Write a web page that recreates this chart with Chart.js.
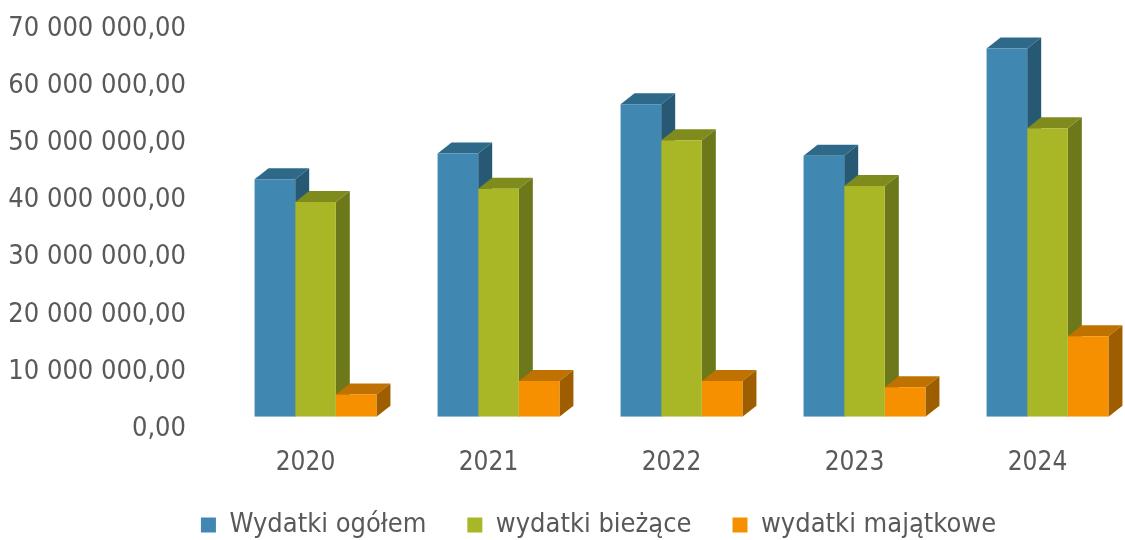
<!DOCTYPE html>
<html>
<head>
<meta charset="utf-8">
<script src="https://cdn.jsdelivr.net/npm/chart.js@4"></script>
<style>
	html, body { margin: 0; padding: 0; background: #fff; overflow: hidden; }
	#wrap { width: 1125px; height: 540px; position: relative; overflow: hidden; }
</style>
</head>
<body>
<div id="wrap"><canvas id="myChart" width="1160" height="540"></canvas></div>
<script>
// values (PLN)
const years = ['2020', '2021', '2022', '2023', '2024']
const wydatkiOgolem = [41600000, 46100000, 54700000, 45700000, 64500000]
const wydatkiBiezace = [37600000, 39900000, 48400000, 40400000, 50500000]
const wydatkiMajatkowe = [3900000, 6250000, 6250000, 5150000, 14100000]

const seriesNames = ['Wydatki ogółem', 'wydatki bieżące', 'wydatki majątkowe']

// front, top, side shades
const shades = [
	['rgb(64, 135, 178)', 'rgb(47, 105, 138)', 'rgb(39, 89, 117)'],
	['rgb(169, 183, 38)', 'rgb(128, 139, 29)', 'rgb(108, 120, 25)'],
	['rgb(246, 144, 0)', 'rgb(192, 114, 0)', 'rgb(158, 94, 0)']
]

const depthX = 14
const depthY = 11

Chart.defaults.font.family = '"DejaVu Sans Condensed", "DejaVu Sans", Verdana, sans-serif'
Chart.defaults.color = '#595959'

function formatPl(value) {
	let s = Math.round(value).toString()
	s = s.replace(/\B(?=(\d{3})+(?!\d))/g, ' ')
	return s + ',00'
}

// draws the top and right faces of every bar, behind the fronts
const extrude = {
	id: 'extrude',
	beforeDatasetsDraw(chart) {
		const ctx = chart.ctx
		ctx.save()
		chart.data.datasets.forEach((ds, i) => {
			const meta = chart.getDatasetMeta(i)
			meta.data.forEach(bar => {
				const left = bar.x - bar.width / 2
				const right = bar.x + bar.width / 2
				const top = bar.y
				const base = bar.base
				// top
				ctx.fillStyle = shades[i][1]
				ctx.beginPath()
				ctx.moveTo(left, top)
				ctx.lineTo(left + depthX, top - depthY)
				ctx.lineTo(right + depthX, top - depthY)
				ctx.lineTo(right, top)
				ctx.closePath()
				ctx.fill()
				// side
				ctx.fillStyle = shades[i][2]
				ctx.beginPath()
				ctx.moveTo(right, top)
				ctx.lineTo(right + depthX, top - depthY)
				ctx.lineTo(right + depthX, base - depthY)
				ctx.lineTo(right, base)
				ctx.closePath()
				ctx.fill()
			})
		})
		ctx.restore()
	}
}

// nudge legend to where the original has it, let x labels overflow their box
const nudge = {
	id: 'nudge',
	afterLayout(chart) {
		const lg = chart.legend
		lg.left += 29
		lg.right += 29
		lg.top += 8.5
		lg.bottom += 8.5
		chart.scales.x.bottom += 30
	}
}

const ctx = document.getElementById('myChart')
var chart = new Chart(ctx, {
	type: 'bar',
	data: {
		labels: years,
		datasets: [{
			label: seriesNames[0],
			data: wydatkiOgolem,
			backgroundColor: shades[0][0]
		}, {
			label: seriesNames[1],
			data: wydatkiBiezace,
			backgroundColor: shades[1][0]
		}, {
			label: seriesNames[2],
			data: wydatkiMajatkowe,
			backgroundColor: shades[2][0]
		}]
	},
	options: {
		responsive: false,
		animation: false,
		datasets: {
			bar: {
				categoryPercentage: 0.666,
				barPercentage: 1.0,
				borderWidth: 0
			}
		},
		layout: {
			padding: { left: 0, right: 21, top: 17, bottom: 0 }
		},
		plugins: {
			legend: {
				position: 'bottom',
				labels: {
					boxWidth: 15,
					boxHeight: 15,
					padding: 41,
					color: '#595959',
					font: { size: 27 }
				}
			},
			tooltip: { enabled: false }
		},
		scales: {
			x: {
				grid: { display: false, drawTicks: false },
				border: { display: false },
				ticks: {
					color: '#595959',
					padding: 30.7,
					labelOffset: -10,
					font: { size: 26 }
				},
				afterFit: function (scale) {
					scale.height = 45.3
				}
			},
			y: {
				min: 0,
				max: 70000000,
				grid: { display: false, drawTicks: false },
				border: { display: false },
				ticks: {
					stepSize: 10000000,
					color: '#595959',
					padding: 38,
					labelOffset: 12,
					font: { size: 27 },
					callback: function (value) {
						return formatPl(value)
					}
				},
				afterFit: function (scale) {
					scale.width = 224
					scale.paddingTop = 0
					scale.paddingBottom = 0
				}
			}
		}
	},
	plugins: [extrude, nudge]
})
</script>
</body>
</html>
